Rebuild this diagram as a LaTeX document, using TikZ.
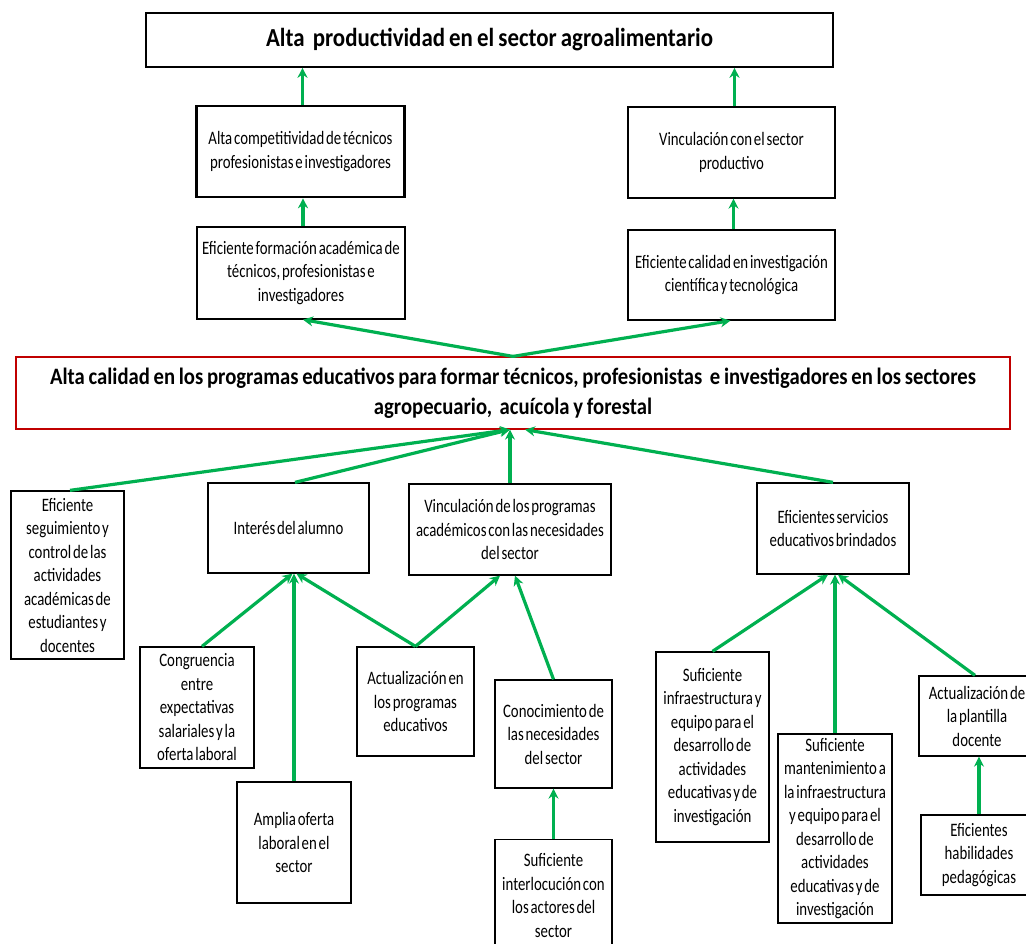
\documentclass[tikz,border=0pt]{standalone}
\usepackage{fontspec}
\setmainfont{Carlito}[FakeStretch=0.78,WordSpace=0.55]
\newfontfamily\headfont{Carlito}[FakeStretch=0.88,WordSpace=0.8]
\usetikzlibrary{arrows.meta,calc}
\definecolor{arrgreen}{RGB}{0,176,80}
\definecolor{boxred}{RGB}{192,0,0}
\begin{document}
\begin{tikzpicture}[x=1pt,y=-1pt,
  box/.style={draw=black,line width=1.3pt,fill=white,inner sep=0pt,align=center,
    font=\fontsize{19}{23.5}\selectfont},
  thickbox/.style={box,line width=2.6pt},
  redbox/.style={draw=boxred,line width=1.2pt,fill=white,inner sep=0pt,align=center,
    font=\headfont\fontsize{23.5}{30}\selectfont\bfseries},
  titlebox/.style={draw=black,line width=1.6pt,fill=white,inner sep=0pt,align=center,
    font=\headfont\fontsize{26}{30}\selectfont\bfseries},
  arr/.style={draw=arrgreen,line width=3.2pt,-{Stealth[length=10pt,width=10pt]}}]
\useasboundingbox (0,0) rectangle (1026,943);
\clip (0,0) rectangle (1026,943);

\node[titlebox,minimum width=687,minimum height=54] (top) at (489.5,40) {Alta\ \ productividad en el sector agroalimentario};
\node[thickbox,minimum width=208,minimum height=91] (comp) at (300.5,151.5) {Alta competitividad de técnicos\\profesionistas e investigadores};
\node[box,minimum width=207,minimum height=91] (vincp) at (731.5,152.5) {Vinculación con el sector\\productivo};
\node[box,minimum width=208,minimum height=92] (form) at (301,273) {Eficiente formación académica de\\técnicos, profesionistas e\\investigadores};
\node[box,minimum width=207,minimum height=90] (calinv) at (731.5,275) {Eficiente calidad en investigación\\científica y tecnológica};
\node[redbox,minimum width=994,minimum height=72] (mid) at (513,393) {Alta calidad en los programas educativos para formar técnicos, profesionistas\ \ e investigadores en los sectores\\agropecuario,\ \ acuícola y forestal};

\node[box,minimum width=113,minimum height=168] (seg) at (67.5,575) {Eficiente\\seguimiento y\\control de las\\actividades\\académicas de\\estudiantes y\\docentes};
\node[box,minimum width=161,minimum height=90] (int) at (288.5,528) {Interés del alumno};
\node[box,minimum width=202,minimum height=91] (vin) at (510,529.5) {Vinculación de los programas\\académicos con las necesidades\\del sector};
\node[box,minimum width=152,minimum height=91] (serv) at (833,528.5) {Eficientes servicios\\educativos brindados};

\node[box,minimum width=114,minimum height=121] (cong) at (197,707.5) {Congruencia\\entre\\expectativas\\salariales y la\\oferta laboral};
\node[box,minimum width=114,minimum height=121] (amp) at (294,842.5) {Amplia oferta\\laboral en el\\sector};
\node[box,minimum width=117,minimum height=109] (act) at (415.5,701.5) {Actualización en\\los programas\\educativos};
\node[box,minimum width=117,minimum height=108] (con) at (553.5,734) {Conocimiento de\\las necesidades\\del sector};
\node[box,minimum width=117,minimum height=112,anchor=north] (interl) at (553.5,839) {Suficiente\\interlocución con\\los actores del\\sector};
\node[box,minimum width=113,minimum height=190] (infra) at (712.5,747) {Suficiente\\infraestructura y\\equipo para el\\desarrollo de\\actividades\\educativas y de\\investigación};
\node[box,minimum width=114,minimum height=189] (mant) at (835,828.5) {Suficiente\\mantenimiento a\\la infraestructura\\y equipo para el\\desarrollo de\\actividades\\educativas y de\\investigación};
\node[box,minimum width=116,minimum height=80] (plant) at (977,716) {Actualización de\\la plantilla\\docente};
\node[box,minimum width=116,minimum height=80] (hab) at (979,855) {Eficientes\\habilidades\\pedagógicas};

% connectors
\draw[arr] ([xshift=2pt]comp.north) -- ([xshift=2pt]comp.north |- top.south);
\draw[arr] ([xshift=3pt]vincp.north) -- ([xshift=3pt]vincp.north |- top.south);
\draw[arr] ([xshift=2pt]form.north) -- ([xshift=2pt]form.north |- comp.south);
\draw[arr] ([xshift=2pt]calinv.north) -- ([xshift=2pt]calinv.north |- vincp.south);
\draw[arr] (mid.north) -- ([xshift=2pt]form.south);
\draw[arr] (mid.north) -- ([xshift=-1pt]calinv.south);

\draw[arr] ([xshift=2.5pt]seg.north) -- ([xshift=-3pt]mid.south);
\draw[arr] ([xshift=6.5pt]int.north) -- ([xshift=-3pt]mid.south);
\draw[arr] (vin.north) -- (vin.north |- mid.south);
\draw[arr] (serv.north) -- ([xshift=12pt]mid.south);

\draw[arr] ([xshift=5pt]cong.north) -- ([xshift=4pt]int.south);
\draw[arr] (amp.north) -- (amp.north |- int.south);
\draw[arr] (act.north) -- ([xshift=8pt]int.south);
\draw[arr] (act.north) -- ([xshift=-10pt]vin.south);
\draw[arr] (con.north) -- ([xshift=5pt]vin.south);
\draw[arr] (interl.north) -- (con.south);

\draw[arr] (infra.north) -- ([xshift=-5pt]serv.south);
\draw[arr] (mant.north) -- (mant.north |- serv.south);
\draw[arr] ([xshift=-2pt]plant.north) -- ([xshift=5pt]serv.south);
\draw[arr] (hab.north) -- ([xshift=2pt]plant.south);
\end{tikzpicture}
\end{document}
